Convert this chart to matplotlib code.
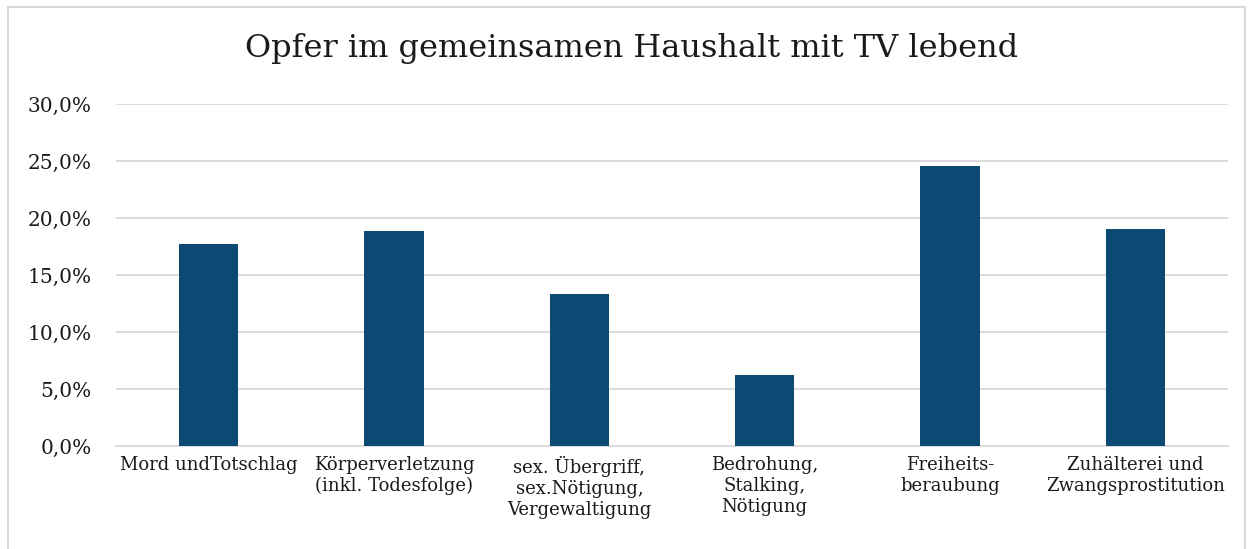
import matplotlib
matplotlib.use("Agg")
import matplotlib.pyplot as plt
from matplotlib.patches import Rectangle
from matplotlib.ticker import FuncFormatter

categories = ["Mord undTotschlag", "Körperverletzung\n(inkl. Todesfolge)",
              "sex. Übergriff,\nsex.Nötigung,\nVergewaltigung",
              "Bedrohung,\nStalking,\nNötigung", "Freiheits-\nberaubung",
              "Zuhälterei und\nZwangsprostitution"]
values = [0.177, 0.189, 0.133, 0.062, 0.246, 0.190]
yticks = [0.0, 0.05, 0.10, 0.15, 0.20, 0.25, 0.30]
title = "Opfer im gemeinsamen Haushalt mit TV lebend"

plt.rcParams['font.family'] = ['DejaVu Serif']
W, H = 1254, 549
fig = plt.figure(figsize=(W/100, H/100), dpi=100)
fig.patches.append(Rectangle((8/W, -0.1), (1245-8)/W, 1.1 - 7/H, transform=fig.transFigure,
                             fill=False, edgecolor='#d9d9d9', linewidth=1.5))
ax = fig.add_axes([116/W, 1-446/H, (1228-116)/W, (446-104)/H])
x = range(len(categories))
ax.bar(x, values, width=0.32, color='#0d4a73', zorder=3)
ax.set_xlim(-0.5, len(categories)-0.5)
ax.set_ylim(0, 0.30)
ax.set_yticks(yticks)
ax.yaxis.set_major_formatter(FuncFormatter(lambda v, p: f"{v*100:.1f}%".replace('.', ',')))
ax.set_xticks(list(x))
ax.set_xticklabels(categories, fontsize=13, linespacing=1.22, va='top')
ax.tick_params(axis='y', labelsize=14.5, length=0, pad=17.5, colors='#1a1a1a')
ax.tick_params(axis='x', length=0, pad=7, colors='#1a1a1a')
ax.grid(axis='y', color='#d9d9d9', linewidth=1.3, zorder=0)
for s in ['top', 'right', 'left']:
    ax.spines[s].set_visible(False)
ax.spines['bottom'].set_color('#d9d9d9')
ax.spines['bottom'].set_linewidth(1.3)
fig.text(632/W, 1-48/H, title, ha='center', va='center', fontsize=23, color='#1a1a1a')
fig.savefig("out.png", dpi=100)
